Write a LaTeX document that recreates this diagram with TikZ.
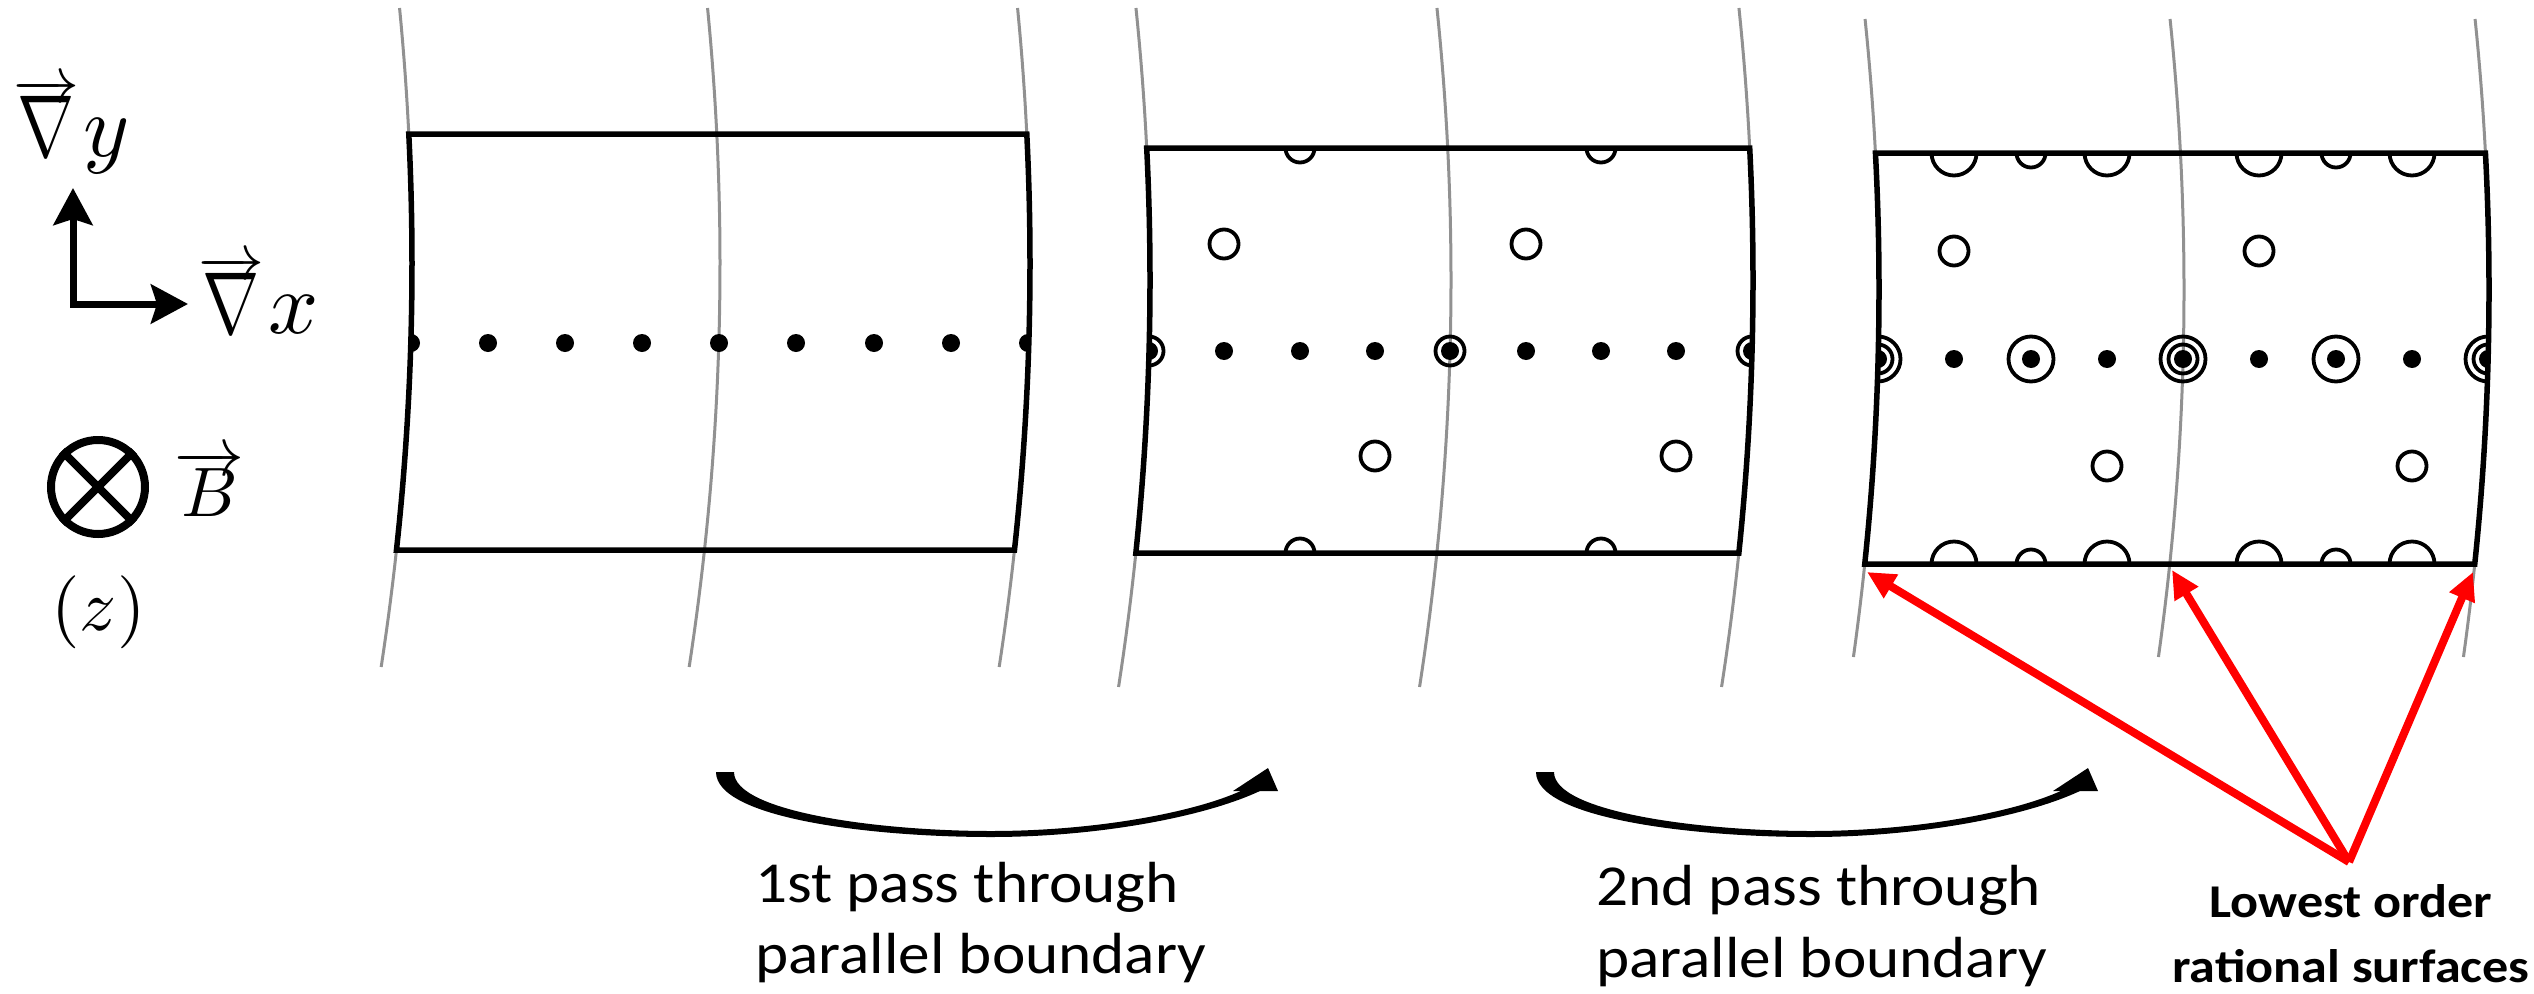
\documentclass[tikz,border=0pt]{standalone}
\usepackage{fontspec}
\usetikzlibrary{arrows.meta}
\newfontfamily\calfont[FakeStretch=1.09]{Carlito}
\newfontfamily\calfontb[FakeStretch=1.11]{Carlito}
\definecolor{arcgrey}{RGB}{145,145,145}
% vector gradient symbol (set at 10pt, the node is scaled)
\newcommand\gradvec{$\overrightarrow{\hbox{\scalebox{1.04}[1.333]{$\nabla$}}}$}
% flux-surface arc (xp, yc, y1, y2)
\newcommand\parc[4]{\draw[arcline] plot[domain=#3:#4, samples=40, variable=\t] ({#1-((\t-#2)*0.013784)*((\t-#2)*0.013784)},\t);}
% panel outline path (xL, xR, yc, top, bottom)
\newcommand\pbox[5]{plot[domain=#4:#5, samples=30, variable=\t] ({#2-((\t-#3)*0.013784)*((\t-#3)*0.013784)},\t) -- plot[domain=#5:#4, samples=30, variable=\t] ({#1-((\t-#3)*0.013784)*((\t-#3)*0.013784)},\t) -- cycle}
\begin{document}
\begin{tikzpicture}[x=1pt,y=-1pt,
  arcline/.style={draw=arcgrey, line width=3pt},
  boxline/.style={draw=black, line width=5.5pt, line join=miter},
  featline/.style={draw=black, line width=3.8pt},
  redarrow/.style={draw=red, line width=8pt, -{Triangle[length=28pt,width=26pt]}},
  axisarrow/.style={line width=7pt, line join=miter, {Stealth[length=37pt,width=39pt,inset=6pt]}-{Stealth[length=37pt,width=39pt,inset=6pt]}},
  mathlab/.style={anchor=base west, inner sep=0pt},
  txt/.style={anchor=base west, inner sep=0pt, font=\calfont\fontsize{58}{60}\selectfont},
  boldtxt/.style={anchor=base, inner sep=0pt, font=\calfontb\bfseries\fontsize{47}{50}\selectfont}]
\fill[white] (0,0) rectangle (2534,993);
\useasboundingbox (0,0) rectangle (2534,993);

% ---------- legend ----------
\node[mathlab, scale=6.6] (gy) at (12,156) {\gradvec\kern0.6pt\scalebox{1.333}{$y$}};
\node[mathlab, scale=6.6] (gx) at (197,333) {\gradvec\kern0.6pt\scalebox{1.333}{$x$}};
\coordinate (ax0) at (73,304);
\coordinate (axy) at (73,188);
\coordinate (axx) at (188,304);
\draw[axisarrow] (axy) -- (ax0) -- (axx);
\node[circle, draw, line width=8pt, minimum size=94pt, inner sep=0pt] (otimes) at (98,487) {};
\draw[line width=8pt] (otimes.north west) -- (otimes.south east) (otimes.north east) -- (otimes.south west);
\node[mathlab, scale=7] (bvec) at (173,516) {$\overrightarrow{B}$};
\node[mathlab, scale=7.3] (zlab) at (50,630) {$(z)$};

% ---------- panel 1 ----------
\parc{412}{264}{8}{667}
\parc{720}{264}{8}{667}
\parc{1030}{264}{8}{667}
\begin{scope}
\clip \pbox{412}{1030}{264}{134}{550};
\foreach \x in {411,488,565,642,719,796,874,951,1028} \fill (\x,343) circle[radius=9pt];
\end{scope}
\draw[boxline] \pbox{412}{1030}{264}{134}{550};

% ---------- panel 2 ----------
\parc{1150}{280}{8}{687}
\parc{1451}{280}{8}{687}
\parc{1753}{280}{8}{687}
\begin{scope}
\clip \pbox{1150}{1753}{280}{148}{553};
\foreach \x in {1149,1224,1300,1375,1450,1526,1601,1676,1752} \fill (\x,351) circle[radius=9pt];
\foreach \x in {1149,1450,1752} \draw[featline] (\x,351) circle[radius=14.5pt];
\foreach \x/\y in {1224/244,1526/244,1375/456,1676/456} \draw[featline] (\x,\y) circle[radius=14.5pt];
\foreach \x/\y in {1300/148,1601/148,1300/553,1601/553} \draw[featline] (\x,\y) circle[radius=14.5pt];
\end{scope}
\draw[boxline] \pbox{1150}{1753}{280}{148}{553};

% ---------- panel 3 ----------
\parc{1879}{290}{19}{657}
\parc{2184}{290}{19}{657}
\parc{2489}{290}{19}{657}
\begin{scope}
\clip \pbox{1879}{2489}{290}{153}{564};
\foreach \x in {1878,1954,2031,2107,2183,2259,2336,2412,2488} \fill (\x,359) circle[radius=9pt];
\foreach \x in {1878,2183,2488} \draw[featline] (\x,359) circle[radius=14.5pt];
\foreach \x in {1878,2031,2183,2336,2488} \draw[featline] (\x,359) circle[radius=22.5pt];
\foreach \x/\y in {1954/251,2259/251,2107/466,2412/466} \draw[featline] (\x,\y) circle[radius=14.5pt];
\foreach \x in {1954,2107,2259,2412} {
  \draw[featline] (\x,153) circle[radius=22.5pt];
  \draw[featline] (\x,564) circle[radius=22.5pt];}
\foreach \x in {2031,2336} {
  \draw[featline] (\x,153) circle[radius=14.5pt];
  \draw[featline] (\x,564) circle[radius=14.5pt];}
\end{scope}
\draw[boxline] \pbox{1879}{2489}{290}{153}{564};

% ---------- curved arrows ----------
\foreach \dx in {0,820} {
\begin{scope}[xshift=\dx pt]
\fill (716,772) .. controls (716,818) and (870,837) .. (991,837)
  .. controls (1100,837) and (1210,816) .. (1264,789) -- (1245,789)
  .. controls (1200,811) and (1100,831) .. (991,831)
  .. controls (880,831) and (734,812) .. (734,772) -- cycle;
\fill (1233,791) -- (1268,768) -- (1278,791) -- cycle;
\end{scope}}

% ---------- texts ----------
\node[txt] (t1a) at (755,902) {1st pass through};
\node[txt] (t1b) at (755,973) {parallel boundary};
\node[txt] (t2a) at (1596,905) {2nd pass through};
\node[txt] (t2b) at (1596,977) {parallel boundary};
\node[boldtxt] (t3a) at (2351,917) {Lowest order};
\node[boldtxt] (t3b) at (2351,982) {rational surfaces};

% ---------- red arrows ----------
\coordinate (apex) at (2349,862);
\coordinate (rsA) at (1867,572);
\coordinate (rsB) at (2172,570);
\coordinate (rsC) at (2473,572);
\draw[redarrow] (apex) -- (rsA);
\draw[redarrow] (apex) -- (rsB);
\draw[redarrow] (apex) -- (rsC);
\end{tikzpicture}
\end{document}
